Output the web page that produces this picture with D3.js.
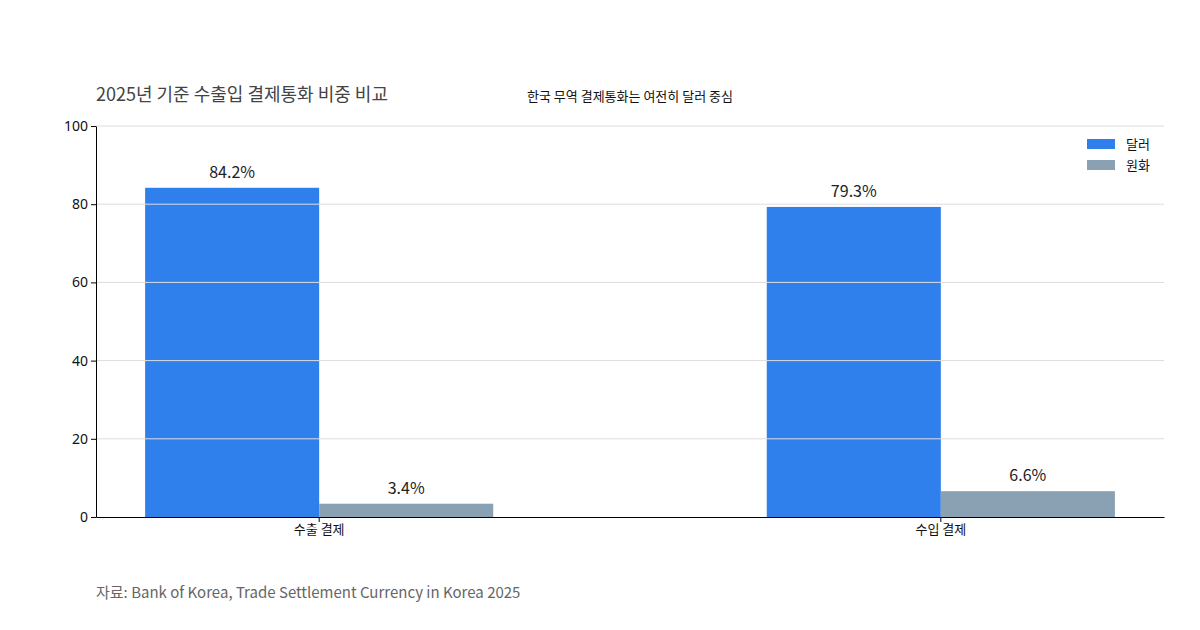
<!DOCTYPE html>
<html><head><meta charset="utf-8">
<script src="https://cdn.jsdelivr.net/npm/d3@7"></script>
<style>body{margin:0;background:#fff;font-family:"Noto Sans CJK KR","Noto Sans",sans-serif;}</style>
</head><body>
<svg id="chart" width="1200" height="630"></svg>
<script>
var categories = ["수출 결제", "수입 결제"];
var seriesNames = ["달러", "원화"];
var dollar = [84.2, 79.3];
var won = [3.4, 6.6];
var yTicks = [0, 20, 40, 60, 80, 100];
var colors = ["#2f80ed", "#8aa0b3"];

var svg = d3.select("#chart");
var plotLeft = 96, plotRight = 1164, plotTop = 126, plotBottom = 517;

var x = d3.scaleBand().domain(categories).range([plotLeft, plotRight]).paddingInner(0.44).paddingOuter(0.079);
var xs = d3.scaleBand().domain(seriesNames).range([0, x.bandwidth()]);
var y = d3.scaleLinear().domain([0, 100]).range([plotBottom, plotTop]);

var data = categories.map(function(c, i) { return {cat: c, vals: [dollar[i], won[i]]}; });

var g = svg.selectAll("g.grp").data(data).enter().append("g")
	.attr("transform", function(d) { return "translate(" + x(d.cat) + ",0)"; });
g.selectAll("rect").data(function(d) { return d.vals; }).enter().append("rect")
	.attr("x", function(d, i) { return xs(seriesNames[i]); })
	.attr("width", xs.bandwidth())
	.attr("y", function(d) { return y(d); })
	.attr("height", function(d) { return plotBottom - y(d); })
	.attr("fill", function(d, i) { return colors[i]; });
g.selectAll("text").data(function(d) { return d.vals; }).enter().append("text")
	.attr("x", function(d, i) { return xs(seriesNames[i]) + xs.bandwidth() / 2; })
	.attr("y", function(d) { return y(d) - 10; })
	.attr("text-anchor", "middle").style("font-size", "16px").attr("fill", "#222")
	.text(function(d) { return d + "%"; });

// gridlines over bars
svg.selectAll("line.grid").data(yTicks.slice(1)).enter().append("line")
	.attr("x1", plotLeft).attr("x2", plotRight)
	.attr("y1", function(d) { return y(d); }).attr("y2", function(d) { return y(d); })
	.attr("stroke", "#dcdcdc").attr("stroke-width", 1);

var yAxis = svg.append("g").attr("transform", "translate(" + plotLeft + ",0)")
	.call(d3.axisLeft(y).tickValues(yTicks).tickSize(5).tickSizeOuter(0));
yAxis.selectAll("text").style("font-size", "14px").attr("fill", "#111").style("font-family", "'Noto Sans',sans-serif");
var xAxis = svg.append("g").attr("transform", "translate(0," + plotBottom + ")")
	.call(d3.axisBottom(x).tickSize(5).tickSizeOuter(0));
xAxis.selectAll("text").style("font-size", "13px").attr("fill", "#111").style("font-family", "'Noto Sans CJK KR',sans-serif");

svg.append("text").attr("x", 96).attr("y", 101).style("font-size", "18px").attr("fill", "#444")
	.text("2025년 기준 수출입 결제통화 비중 비교");
svg.append("text").attr("x", 630).attr("y", 101).attr("text-anchor", "middle").style("font-size", "13px").attr("fill", "#111")
	.text("한국 무역 결제통화는 여전히 달러 중심");

var leg = svg.selectAll("g.leg").data(seriesNames).enter().append("g")
	.attr("transform", function(d, i) { return "translate(1087," + (139 + i * 21) + ")"; });
leg.append("rect").attr("width", 28).attr("height", 10).attr("fill", function(d, i) { return colors[i]; });
leg.append("text").attr("x", 39).attr("y", 10).style("font-size", "13px").attr("fill", "#111").text(function(d) { return d; });

svg.append("text").attr("x", 96).attr("y", 598).style("font-size", "15px").attr("fill", "#666")
	.text("자료: Bank of Korea, Trade Settlement Currency in Korea 2025");
</script>
</body></html>
